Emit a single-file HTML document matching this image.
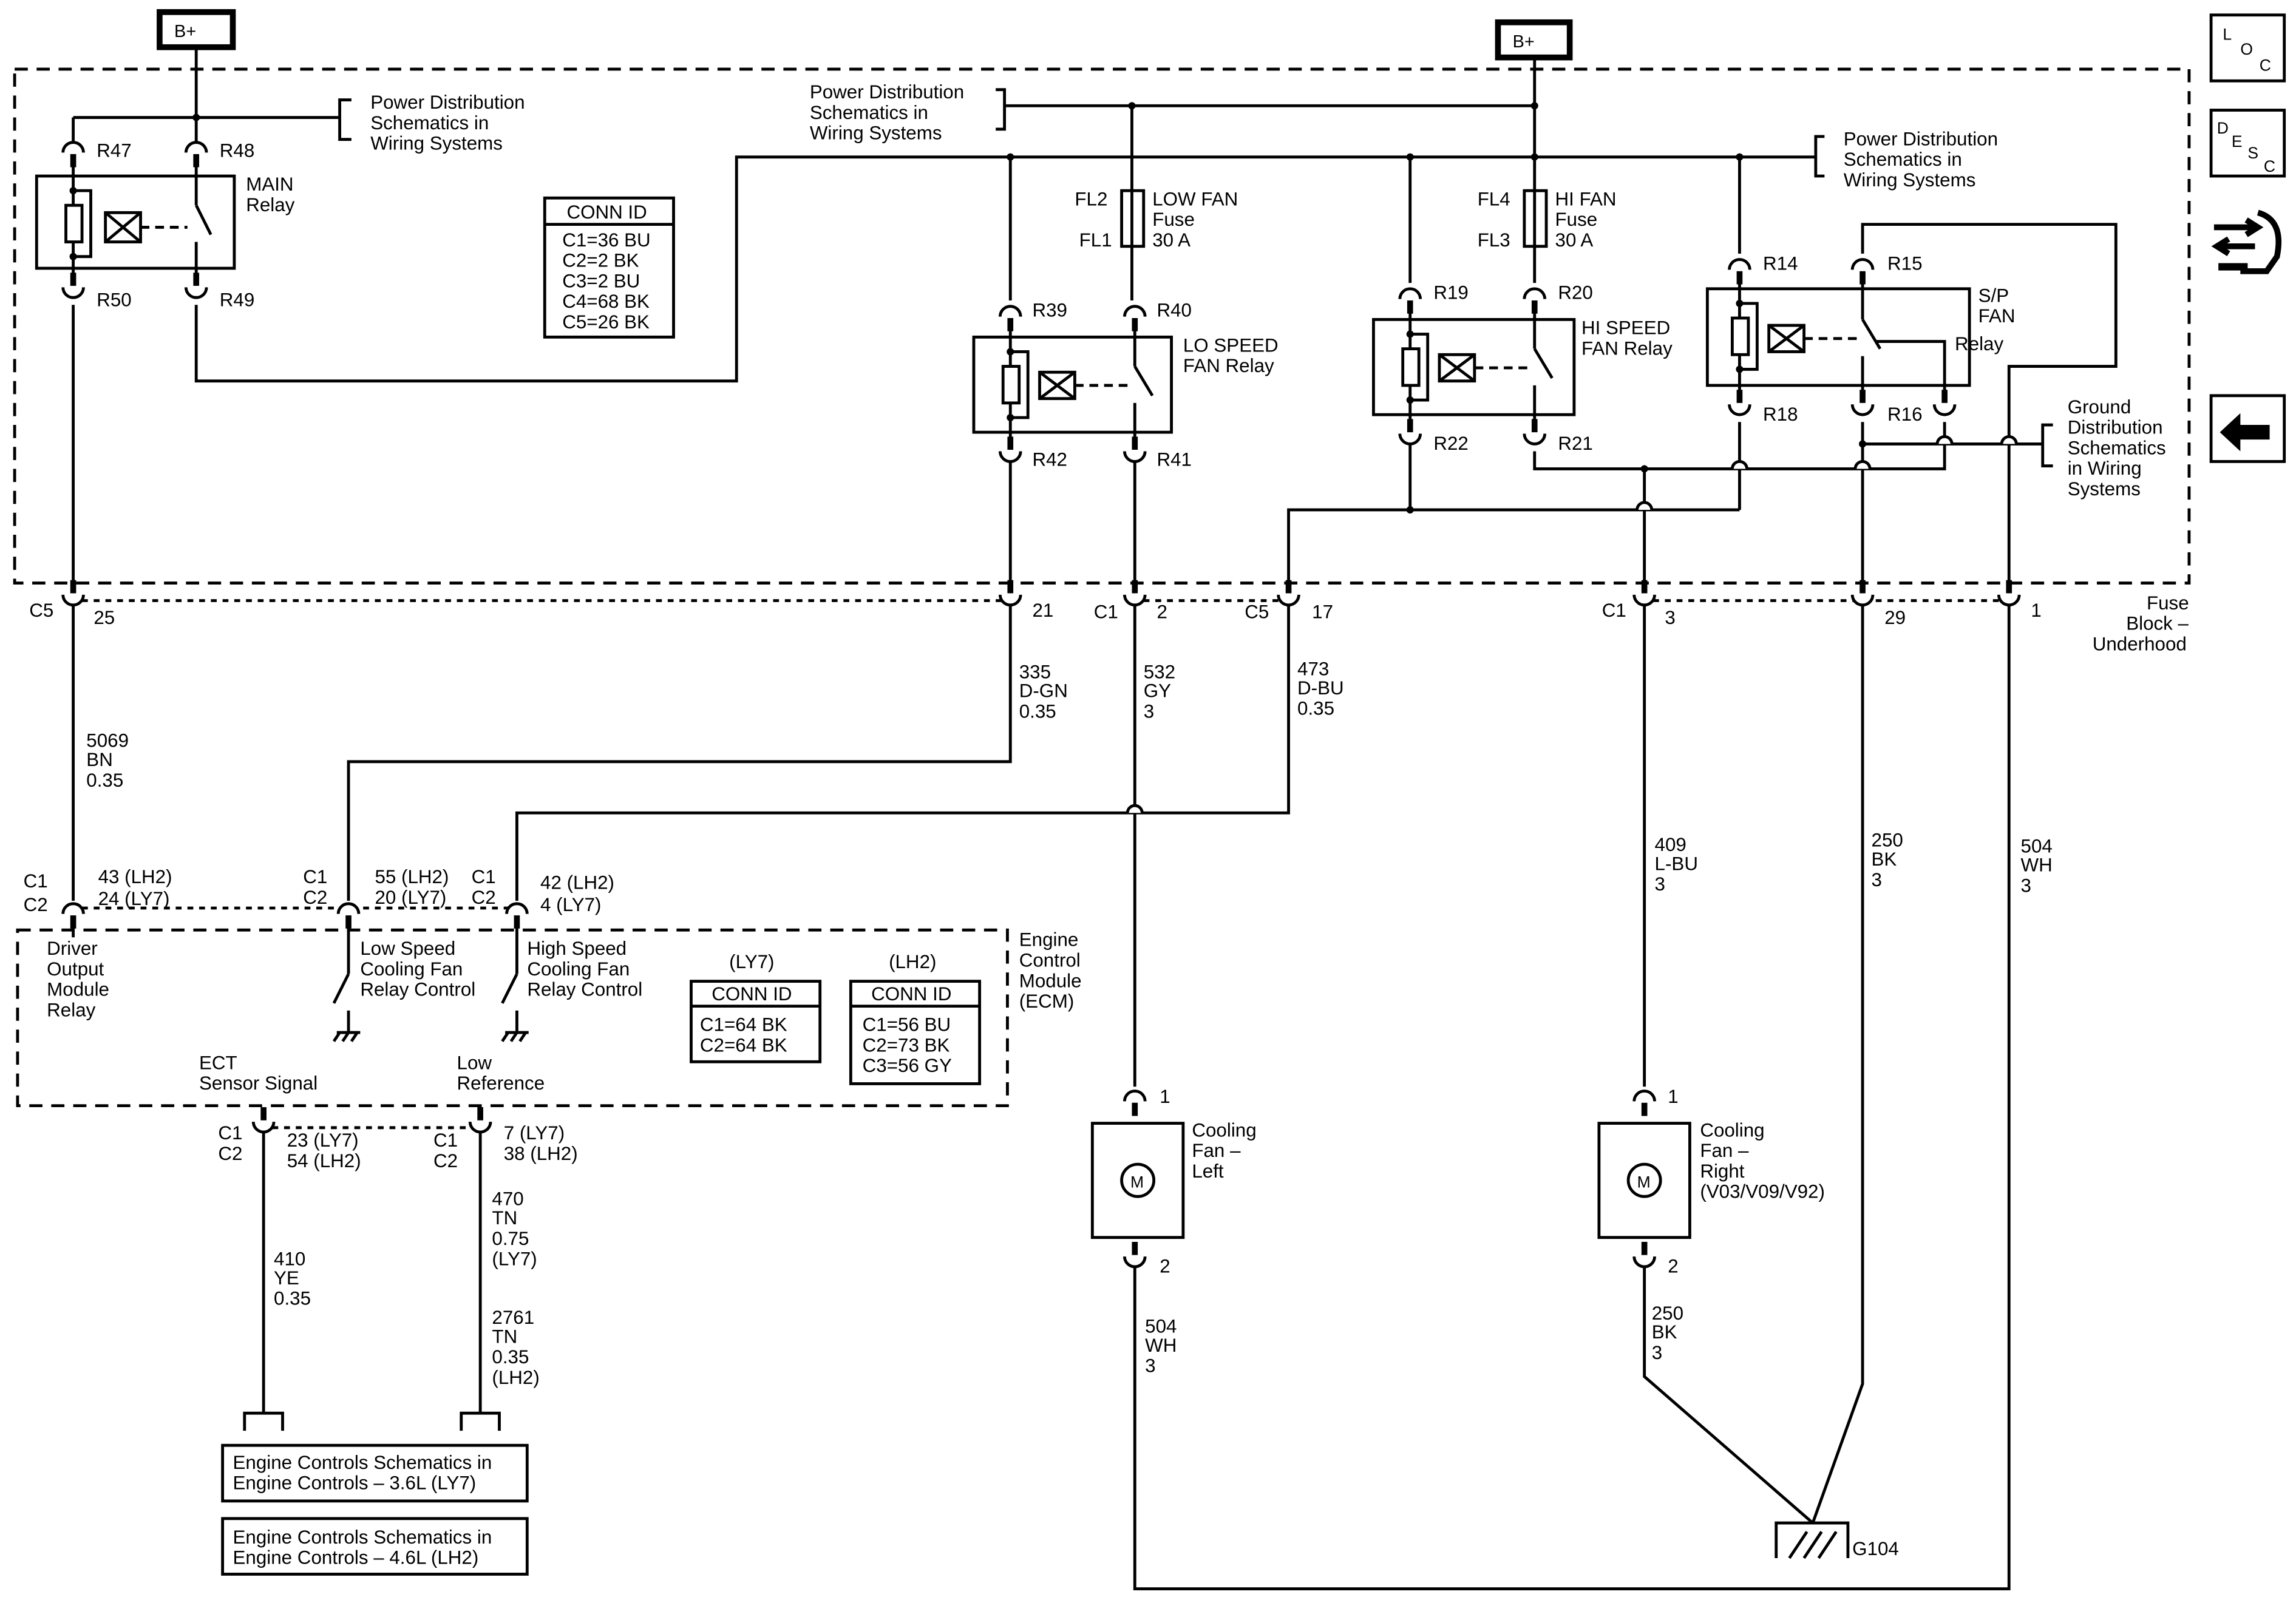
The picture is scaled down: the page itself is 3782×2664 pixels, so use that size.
<!DOCTYPE html>
<html><head><meta charset="utf-8"><style>
html,body{margin:0;padding:0;background:#fff;}
svg{display:block;}
text{font-family:"Liberation Sans",Arial,sans-serif;font-size:13px;fill:#000;}
</style></head><body>
<svg width="3782" height="2664" viewBox="0 0 1568 1104" xmlns="http://www.w3.org/2000/svg">
<defs>
<g id="c"><rect x="-3" y="0" width="6" height="5" fill="#fff"/><path d="M-7,4 A7,7 0 0 1 7,4" fill="#fff" stroke="#000" stroke-width="2"/><rect x="-3" y="0" width="6" height="5" fill="#fff"/><line x1="0" y1="5" x2="0" y2="14" stroke="#000" stroke-width="4"/></g>
<g id="u"><rect x="-3" y="-5" width="6" height="5" fill="#fff"/><path d="M-7,-4 A7,7 0 0 0 7,-4" fill="#fff" stroke="#000" stroke-width="2"/><rect x="-3" y="-5" width="6" height="5" fill="#fff"/><line x1="0" y1="-14" x2="0" y2="-5" stroke="#000" stroke-width="4"/></g>
<g id="hop"><path d="M-5,0 A5,5 0 0 1 5,0" fill="#fff" stroke="#000" stroke-width="2"/></g>
</defs>
<rect width="1568" height="1104" fill="#fff"/>
<g fill="none" stroke="#000" stroke-width="2">
<rect x="10" y="47" width="1485" height="351" stroke-dasharray="9,6"/>
<rect x="12" y="635" width="676" height="120" stroke-dasharray="9,6"/>
<rect x="109" y="8" width="50" height="24" stroke-width="4"/>
<rect x="1023" y="15" width="49" height="24" stroke-width="4"/>
<rect x="1510" y="10" width="50" height="45"/>
<rect x="1510" y="75" width="50" height="45"/>
<rect x="1510" y="270" width="50" height="45"/>
<line x1="134" y1="32" x2="134" y2="100"/>
<line x1="50" y1="80" x2="232" y2="80"/>
<line x1="50" y1="80" x2="50" y2="100"/>
<path d="M240,68 H232 V95 H240"/>
<rect x="25" y="120" width="135" height="63"/>
<line x1="50" y1="108" x2="50" y2="195"/>
<line x1="134" y1="108" x2="134" y2="140"/>
<line x1="134" y1="165" x2="134" y2="195"/>
<rect x="45" y="140" width="11" height="25" fill="#fff"/>
<path d="M50,130 H62 V175 H50"/>
<rect x="72" y="145" width="24" height="20"/><path d="M72,145 L96,165 M96,145 L72,165"/>
<line x1="96" y1="155" x2="128" y2="155" stroke-dasharray="6,4"/>
<line x1="134" y1="140" x2="144" y2="160"/>
<line x1="50" y1="208" x2="50" y2="405"/>
<path d="M134,208 V260 H503 V107 H1240"/>
<rect x="372" y="135" width="88" height="95"/><line x1="372" y1="153" x2="460" y2="153"/>
<line x1="1048" y1="39" x2="1048" y2="130"/>
<line x1="686" y1="72" x2="1048" y2="72"/>
<path d="M680,61 H686 V88 H680"/>
<path d="M1246,93 H1240 V120 H1246"/>
<line x1="773" y1="72" x2="773" y2="130"/>
<rect x="766" y="130" width="15" height="38"/><line x1="773" y1="130" x2="773" y2="168"/>
<rect x="1041" y="130" width="15" height="38"/><line x1="1048" y1="130" x2="1048" y2="168"/>
<line x1="773" y1="168" x2="773" y2="205"/>
<line x1="1048" y1="168" x2="1048" y2="193"/>
<line x1="690" y1="107" x2="690" y2="205"/>
<line x1="963" y1="107" x2="963" y2="193"/>
<line x1="1188" y1="107" x2="1188" y2="173"/>
<!-- LO speed relay -->
<rect x="665" y="230" width="135" height="65"/>
<line x1="690" y1="218" x2="690" y2="305"/>
<rect x="685" y="250" width="11" height="25" fill="#fff"/>
<path d="M690,240 H702 V285 H690"/>
<rect x="710" y="254" width="24" height="18"/><path d="M710,254 L734,272 M734,254 L710,272"/>
<line x1="734" y1="263" x2="770" y2="263" stroke-dasharray="6,4"/>
<line x1="775" y1="218" x2="775" y2="250"/><line x1="775" y1="250" x2="787" y2="270"/><line x1="775" y1="275" x2="775" y2="305"/>
<!-- HI speed relay -->
<rect x="938" y="218" width="137" height="65"/>
<line x1="963" y1="206" x2="963" y2="293"/>
<rect x="958" y="238" width="11" height="25" fill="#fff"/>
<path d="M963,228 H975 V273 H963"/>
<rect x="983" y="242" width="24" height="18"/><path d="M983,242 L1007,260 M1007,242 L983,260"/>
<line x1="1007" y1="251" x2="1043" y2="251" stroke-dasharray="6,4"/>
<line x1="1048" y1="206" x2="1048" y2="238"/><line x1="1048" y1="238" x2="1060" y2="258"/><line x1="1048" y1="263" x2="1048" y2="293"/>
<!-- S/P fan relay -->
<rect x="1166" y="197" width="179" height="66"/>
<line x1="1188" y1="186" x2="1188" y2="273"/>
<rect x="1183" y="217" width="11" height="25" fill="#fff"/>
<path d="M1188,207 H1200 V252 H1188"/>
<rect x="1208" y="222" width="24" height="18"/><path d="M1208,222 L1232,240 M1232,222 L1208,240"/>
<line x1="1232" y1="231" x2="1268" y2="231" stroke-dasharray="6,4"/>
<line x1="1272" y1="186" x2="1272" y2="218"/><line x1="1272" y1="218" x2="1284" y2="238"/><line x1="1272" y1="243" x2="1272" y2="273"/>
<path d="M1281,233 H1328 V273"/>
<path d="M1272,173 V153 H1445 V250 H1372 V405"/>
<path d="M1048,308 V320 H1328 V288"/>
<line x1="1188" y1="288" x2="1188" y2="348"/>
<line x1="963" y1="288" x2="963" y2="348"/>
<path d="M1188,348 H880 V405"/>
<line x1="1123" y1="320" x2="1123" y2="405"/>
<line x1="1272" y1="288" x2="1272" y2="405"/>
<line x1="1272" y1="303" x2="1395" y2="303"/>
<path d="M1402,290 H1395 V318 H1402"/>
<line x1="690" y1="300" x2="690" y2="405"/>
<line x1="775" y1="300" x2="775" y2="405"/>
<line x1="56" y1="410" x2="684" y2="410" stroke-dasharray="4,4"/>
<line x1="781" y1="410" x2="874" y2="410" stroke-dasharray="4,4"/>
<line x1="1129" y1="410" x2="1366" y2="410" stroke-dasharray="4,4"/>
<line x1="50" y1="410" x2="50" y2="615"/>
<path d="M690,410 V520 H238 V615"/>
<line x1="775" y1="410" x2="775" y2="742"/>
<path d="M880,410 V555 H353 V615"/>
<line x1="1123" y1="410" x2="1123" y2="742"/>
<path d="M1272,410 V945 L1238,1040"/>
<path d="M1372,410 V1085 H775 V860"/>
<path d="M1123,860 V940 L1238,1040"/>
<line x1="56" y1="620" x2="347" y2="620" stroke-dasharray="4,4"/>
<line x1="238" y1="630" x2="238" y2="665"/><line x1="238" y1="665" x2="228" y2="685"/><line x1="238" y1="690" x2="238" y2="705"/>
<path d="M230,705 H246 M232,705 L228,711 M238,705 L234,711 M244,705 L240,711"/>
<line x1="353" y1="630" x2="353" y2="665"/><line x1="353" y1="665" x2="343" y2="685"/><line x1="353" y1="690" x2="353" y2="705"/>
<path d="M345,705 H361 M347,705 L343,711 M353,705 L349,711 M359,705 L355,711"/>
<line x1="50" y1="630" x2="50" y2="640"/>
<rect x="472" y="670" width="88" height="55"/><line x1="472" y1="687" x2="560" y2="687"/>
<rect x="581" y="670" width="88" height="70"/><line x1="581" y1="687" x2="669" y2="687"/>
<line x1="186" y1="770" x2="322" y2="770" stroke-dasharray="4,4"/>
<line x1="180" y1="770" x2="180" y2="965"/><line x1="328" y1="770" x2="328" y2="965"/>
<path d="M167,977 V965 H193 V977"/><path d="M315,977 V965 H341 V977"/>
<rect x="152" y="987" width="208" height="38"/>
<rect x="152" y="1037" width="208" height="38"/>
<rect x="746" y="767" width="62" height="78"/><circle cx="777" cy="806" r="11"/>
<rect x="1092" y="767" width="62" height="78"/><circle cx="1123" cy="806" r="11"/>
<path d="M1213,1064 V1040 H1262 V1064 M1222,1064 L1234,1046 M1232,1064 L1244,1046 M1242,1064 L1254,1046"/>
</g>
<use href="#hop" x="775" y="555"/>
<use href="#hop" x="1123" y="348"/>
<use href="#hop" x="1188" y="320"/>
<use href="#hop" x="1272" y="320"/>
<use href="#hop" x="1328" y="303"/>
<use href="#hop" x="1372" y="303"/>
<!-- connectors: c = arc above, stub below ; u = stub above, cup below -->
<use href="#c" x="50" y="100"/><use href="#c" x="134" y="100"/>
<use href="#u" x="50" y="200"/><use href="#u" x="134" y="200"/>
<use href="#c" x="690" y="212"/><use href="#c" x="775" y="212"/>
<use href="#u" x="690" y="312"/><use href="#u" x="775" y="312"/>
<use href="#c" x="963" y="200"/><use href="#c" x="1048" y="200"/>
<use href="#u" x="963" y="300"/><use href="#u" x="1048" y="300"/>
<use href="#c" x="1188" y="180"/><use href="#c" x="1272" y="180"/>
<use href="#u" x="1188" y="280"/><use href="#u" x="1272" y="280"/><use href="#u" x="1328" y="280"/>
<use href="#u" x="50" y="410"/><use href="#u" x="690" y="410"/><use href="#u" x="775" y="410"/><use href="#u" x="880" y="410"/>
<use href="#u" x="1123" y="410"/><use href="#u" x="1272" y="410"/><use href="#u" x="1372" y="410"/>
<use href="#c" x="50" y="620"/><use href="#c" x="238" y="620"/><use href="#c" x="353" y="620"/>
<use href="#u" x="180" y="770"/><use href="#u" x="328" y="770"/>
<use href="#c" x="775" y="748"/><use href="#u" x="775" y="862"/>
<use href="#c" x="1123" y="748"/><use href="#u" x="1123" y="862"/>
<g fill="#000">
<circle cx="134" cy="80" r="2.5"/><circle cx="50" cy="130" r="2.5"/><circle cx="50" cy="175" r="2.5"/>
<circle cx="773" cy="72" r="2.5"/><circle cx="1048" cy="72" r="2.5"/><circle cx="1048" cy="107" r="2.5"/>
<circle cx="690" cy="107" r="2.5"/><circle cx="963" cy="107" r="2.5"/><circle cx="1188" cy="107" r="2.5"/>
<circle cx="690" cy="240" r="2.5"/><circle cx="690" cy="285" r="2.5"/>
<circle cx="963" cy="228" r="2.5"/><circle cx="963" cy="273" r="2.5"/><circle cx="963" cy="348" r="2.5"/>
<circle cx="1188" cy="207" r="2.5"/><circle cx="1188" cy="252" r="2.5"/>
<circle cx="1123" cy="320" r="2.5"/><circle cx="1272" cy="303" r="2.5"/>
</g>
<path d="M1516,295 L1530,282 V290 H1550 V300 H1530 V308 Z" fill="#000"/>
<path d="M1512,155 H1540 M1534,150 L1542,155 L1534,160 M1540,168 H1516 M1522,163 L1514,168 L1522,173" stroke="#000" stroke-width="4" fill="none"/>
<path d="M1542,145 Q1560,150 1555,175 L1548,185 H1530" stroke="#000" stroke-width="4" fill="none"/>
<path d="M1515,182 H1535" stroke="#000" stroke-width="5"/>
<text x="119" y="25" style="font-size:12px">B+</text>
<text x="1033" y="32" style="font-size:12px">B+</text>
<text x="1518" y="27" style="font-size:11px">L</text><text x="1530" y="37" style="font-size:11px">O</text><text x="1543" y="48" style="font-size:11px">C</text>
<text x="1514" y="91" style="font-size:11px">D</text><text x="1524" y="100" style="font-size:11px">E</text><text x="1535" y="108" style="font-size:11px">S</text><text x="1546" y="117" style="font-size:11px">C</text>
<text x="253" y="74">Power Distribution</text><text x="253" y="88">Schematics in</text><text x="253" y="102">Wiring Systems</text>
<text x="553" y="67">Power Distribution</text><text x="553" y="81">Schematics in</text><text x="553" y="95">Wiring Systems</text>
<text x="1259" y="99">Power Distribution</text><text x="1259" y="113">Schematics in</text><text x="1259" y="127">Wiring Systems</text>
<text x="66" y="107">R47</text><text x="150" y="107">R48</text><text x="66" y="209">R50</text><text x="150" y="209">R49</text>
<text x="168" y="130">MAIN</text><text x="168" y="144">Relay</text>
<text x="387" y="149">CONN ID</text>
<text x="384" y="168">C1=36 BU</text><text x="384" y="182">C2=2 BK</text><text x="384" y="196">C3=2 BU</text><text x="384" y="210">C4=68 BK</text><text x="384" y="224">C5=26 BK</text>
<text x="734" y="140">FL2</text><text x="787" y="140">LOW FAN</text><text x="787" y="154">Fuse</text><text x="737" y="168">FL1</text><text x="787" y="168">30 A</text>
<text x="1009" y="140">FL4</text><text x="1062" y="140">HI FAN</text><text x="1062" y="154">Fuse</text><text x="1009" y="168">FL3</text><text x="1062" y="168">30 A</text>
<text x="705" y="216">R39</text><text x="790" y="216">R40</text><text x="705" y="318">R42</text><text x="790" y="318">R41</text>
<text x="808" y="240">LO SPEED</text><text x="808" y="254">FAN Relay</text>
<text x="979" y="204">R19</text><text x="1064" y="204">R20</text><text x="979" y="307">R22</text><text x="1064" y="307">R21</text>
<text x="1080" y="228">HI SPEED</text><text x="1080" y="242">FAN Relay</text>
<text x="1204" y="184">R14</text><text x="1289" y="184">R15</text><text x="1204" y="287">R18</text><text x="1289" y="287">R16</text>
<text x="1351" y="206">S/P</text><text x="1351" y="220">FAN</text><text x="1335" y="239">Relay</text>
<text x="1412" y="282">Ground</text><text x="1412" y="296">Distribution</text><text x="1412" y="310">Schematics</text><text x="1412" y="324">in Wiring</text><text x="1412" y="338">Systems</text>
<text x="20" y="421">C5</text><text x="64" y="426">25</text><text x="705" y="421">21</text>
<text x="747" y="422">C1</text><text x="790" y="422">2</text><text x="850" y="422">C5</text><text x="896" y="422">17</text>
<text x="1094" y="421">C1</text><text x="1137" y="426">3</text><text x="1287" y="426">29</text><text x="1387" y="421">1</text>
<text x="1466" y="416">Fuse</text><text x="1452" y="430">Block –</text><text x="1429" y="444">Underhood</text>
<text x="59" y="510">5069</text><text x="59" y="523">BN</text><text x="59" y="537">0.35</text>
<text x="696" y="463">335</text><text x="696" y="476">D-GN</text><text x="696" y="490">0.35</text>
<text x="781" y="463">532</text><text x="781" y="476">GY</text><text x="781" y="490">3</text>
<text x="886" y="461">473</text><text x="886" y="474">D-BU</text><text x="886" y="488">0.35</text>
<text x="1130" y="581">409</text><text x="1130" y="594">L-BU</text><text x="1130" y="608">3</text>
<text x="1278" y="578">250</text><text x="1278" y="591">BK</text><text x="1278" y="605">3</text>
<text x="1380" y="582">504</text><text x="1380" y="595">WH</text><text x="1380" y="609">3</text>
<text x="16" y="606">C1</text><text x="16" y="622">C2</text><text x="67" y="603">43 (LH2)</text><text x="67" y="618">24 (LY7)</text>
<text x="207" y="603">C1</text><text x="207" y="617">C2</text><text x="256" y="603">55 (LH2)</text><text x="256" y="617">20 (LY7)</text>
<text x="322" y="603">C1</text><text x="322" y="617">C2</text><text x="369" y="607">42 (LH2)</text><text x="369" y="622">4 (LY7)</text>
<text x="32" y="652">Driver</text><text x="32" y="666">Output</text><text x="32" y="680">Module</text><text x="32" y="694">Relay</text>
<text x="246" y="652">Low Speed</text><text x="246" y="666">Cooling Fan</text><text x="246" y="680">Relay Control</text>
<text x="360" y="652">High Speed</text><text x="360" y="666">Cooling Fan</text><text x="360" y="680">Relay Control</text>
<text x="696" y="646">Engine</text><text x="696" y="660">Control</text><text x="696" y="674">Module</text><text x="696" y="688">(ECM)</text>
<text x="498" y="661">(LY7)</text><text x="486" y="683">CONN ID</text><text x="478" y="704">C1=64 BK</text><text x="478" y="718">C2=64 BK</text>
<text x="607" y="661">(LH2)</text><text x="595" y="683">CONN ID</text><text x="589" y="704">C1=56 BU</text><text x="589" y="718">C2=73 BK</text><text x="589" y="732">C3=56 GY</text>
<text x="136" y="730">ECT</text><text x="136" y="744">Sensor Signal</text><text x="312" y="730">Low</text><text x="312" y="744">Reference</text>
<text x="149" y="778">C1</text><text x="149" y="792">C2</text><text x="196" y="783">23 (LY7)</text><text x="196" y="797">54 (LH2)</text>
<text x="296" y="783">C1</text><text x="296" y="797">C2</text><text x="344" y="778">7 (LY7)</text><text x="344" y="792">38 (LH2)</text>
<text x="187" y="864">410</text><text x="187" y="877">YE</text><text x="187" y="891">0.35</text>
<text x="336" y="823">470</text><text x="336" y="836">TN</text><text x="336" y="850">0.75</text><text x="336" y="864">(LY7)</text>
<text x="336" y="904">2761</text><text x="336" y="917">TN</text><text x="336" y="931">0.35</text><text x="336" y="945">(LH2)</text>
<text x="159" y="1003">Engine Controls Schematics in</text><text x="159" y="1017">Engine Controls – 3.6L (LY7)</text>
<text x="159" y="1054">Engine Controls Schematics in</text><text x="159" y="1068">Engine Controls – 4.6L (LH2)</text>
<text x="792" y="753">1</text><text x="792" y="869">2</text>
<text x="814" y="776">Cooling</text><text x="814" y="790">Fan –</text><text x="814" y="804">Left</text>
<text x="772" y="811" style="font-size:11px">M</text><text x="1118" y="811" style="font-size:11px">M</text>
<text x="1139" y="753">1</text><text x="1139" y="869">2</text>
<text x="1161" y="776">Cooling</text><text x="1161" y="790">Fan –</text><text x="1161" y="804">Right</text><text x="1161" y="818">(V03/V09/V92)</text>
<text x="782" y="910">504</text><text x="782" y="923">WH</text><text x="782" y="937">3</text>
<text x="1128" y="901">250</text><text x="1128" y="914">BK</text><text x="1128" y="928">3</text>
<text x="1265" y="1062">G104</text>
</svg>
</body></html>
